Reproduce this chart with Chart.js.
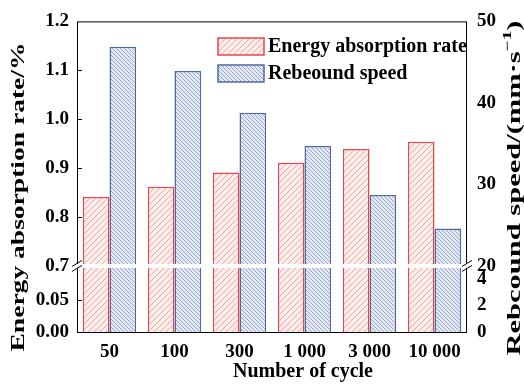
<!DOCTYPE html>
<html>
<head>
<meta charset="utf-8">
<script src="https://cdn.jsdelivr.net/npm/chart.js@4.4.1/dist/chart.umd.min.js"></script>
<style>
html, body { margin: 0; padding: 0; background: #fff; }
</style>
</head>
<body>
<canvas id="chart" width="524" height="385"></canvas>
<script>
const categories = ['50', '100', '300', '1 000', '3 000', '10 000'];
const energyRate = [0.841, 0.862, 0.891, 0.911, 0.939, 0.954];
const reboundSpeed = [46.9, 43.9, 38.8, 34.7, 28.7, 24.6];

const leftTicks = [0, 0.05, 0.7, 0.8, 0.9, 1.0, 1.1, 1.2];
const leftTickLabels = ['0.00', '0.05', '0.7', '0.8', '0.9', '1.0', '1.1', '1.2'];
const rightTicks = [0, 2, 4, 20, 30, 40, 50];
const rightTickLabels = ['0', '2', '4', '20', '30', '40', '50'];

const FONT = "'Liberation Serif', 'Times New Roman', serif";

// broken axis: both parts squeezed into one linear scale 0..TOP
const BREAK = 67, TOP = 315;
function leftPos(v) {
    return v <= 0.1 ? v * 650 : BREAK + (v - 0.7) * (TOP - BREAK) / 0.5;
}
function rightPos(v) {
    return v <= 5 ? v * 13.5 : BREAK + (v - 20) * (TOP - BREAK) / 30;
}

function hatch(bg, line, size, dir) {
    const c = document.createElement('canvas');
    c.width = size;
    c.height = size;
    const g = c.getContext('2d');
    g.fillStyle = bg;
    g.fillRect(0, 0, size, size);
    g.strokeStyle = line;
    g.lineWidth = 1;
    g.beginPath();
    if (dir > 0) {
        // "/" lines
        g.moveTo(0, size); g.lineTo(size, 0);
        g.moveTo(-1, 1); g.lineTo(1, -1);
        g.moveTo(size - 1, size + 1); g.lineTo(size + 1, size - 1);
    } else {
        // "\" lines
        g.moveTo(0, 0); g.lineTo(size, size);
        g.moveTo(size - 1, -1); g.lineTo(size + 1, 1);
        g.moveTo(-1, size - 1); g.lineTo(1, size + 1);
    }
    g.stroke();
    return document.getElementById('chart').getContext('2d').createPattern(c, 'repeat');
}

const redFill = hatch('#fcecea', '#eeaaa8', 6, 1);
const blueFill = hatch('#e4e9f4', '#95a5ca', 4, -1);
const redLine = '#e4474d';
const blueLine = '#4f69a3';

const extras = {
    id: 'extras',
    afterDatasetsDraw(chart) {
        const ctx = chart.ctx;
        const a = chart.chartArea;
        const yb = chart.scales.y.getPixelForValue(BREAK);
        ctx.save();

        // frame
        ctx.strokeStyle = '#000';
        ctx.lineWidth = 1;
        ctx.strokeRect(a.left + 0.5, a.top + 0.5, a.right - a.left - 1, a.bottom - a.top);

        // inward ticks on the left axis
        ctx.beginPath();
        leftTicks.forEach(v => {
            if (v === 0 || v === 0.7 || v === 1.2) return;
            const y = Math.round(chart.scales.y.getPixelForValue(leftPos(v))) + 0.5;
            ctx.moveTo(a.left, y);
            ctx.lineTo(a.left + 5, y);
        });
        ctx.stroke();

        // white gap across the plot
        ctx.fillStyle = '#fff';
        ctx.fillRect(a.left - 2, yb - 2, a.right - a.left + 4, 4);

        // break marks
        ctx.beginPath();
        [a.left, a.right].forEach(x => {
            [-2.5, 2.5].forEach(d => {
                ctx.moveTo(x - 5, yb + d + 3);
                ctx.lineTo(x + 5, yb + d - 3);
            });
        });
        ctx.stroke();

        // legend
        const boxes = [
            { y: 38, fill: redFill, line: redLine, text: 'Energy absorption rate' },
            { y: 65, fill: blueFill, line: blueLine, text: 'Rebeound speed' }
        ];
        ctx.font = 'bold 20px ' + FONT;
        ctx.textBaseline = 'middle';
        ctx.textAlign = 'left';
        boxes.forEach(b => {
            ctx.fillStyle = b.fill;
            ctx.fillRect(218, b.y, 46, 17);
            ctx.strokeStyle = b.line;
            ctx.lineWidth = 1.5;
            ctx.strokeRect(218, b.y, 46, 17);
            ctx.fillStyle = '#000';
            ctx.fillText(b.text, 268, b.y + 9);
        });
        ctx.restore();
    },
    afterDraw(chart) {
        const ctx = chart.ctx;
        ctx.save();
        ctx.fillStyle = '#000';
        ctx.textBaseline = 'middle';
        ctx.textAlign = 'center';

        // x title
        ctx.font = 'bold 20px ' + FONT;
        ctx.fillText('Number of cycle', 303, 372);

        // left title, stretched along its length
        ctx.save();
        ctx.translate(19, 197);
        ctx.rotate(-Math.PI / 2);
        ctx.font = 'bold 19px ' + FONT;
        const lt = 'Energy absorption rate/%';
        const lw = ctx.measureText(lt).width;
        ctx.scale(309 / lw, 1);
        ctx.fillText(lt, 0, 0);
        ctx.restore();

        // right title with superscript
        ctx.save();
        ctx.translate(515, 188);
        ctx.rotate(-Math.PI / 2);
        const p1 = 'Rebcound speed/(mm\u00b7s';
        const p2 = '\u22121';
        const p3 = ')';
        ctx.font = 'bold 19px ' + FONT;
        const w1 = ctx.measureText(p1).width;
        const w3 = ctx.measureText(p3).width;
        ctx.font = 'bold 12px ' + FONT;
        const w2 = ctx.measureText(p2).width;
        const total = w1 + w2 + w3;
        ctx.scale(335 / total, 1);
        ctx.textAlign = 'left';
        let x = -total / 2;
        ctx.font = 'bold 19px ' + FONT;
        ctx.fillText(p1, x, 0);
        x += w1;
        ctx.font = 'bold 12px ' + FONT;
        ctx.fillText(p2, x, -7);
        x += w2;
        ctx.font = 'bold 19px ' + FONT;
        ctx.fillText(p3, x, 0);
        ctx.restore();

        ctx.restore();
    }
};

Chart.defaults.font.family = FONT;
Chart.defaults.color = '#000';

const tickFont = { size: 19, weight: 'bold' };

const config = {
    type: 'bar',
    data: {
        labels: categories,
        datasets: [{
            label: 'Energy absorption rate',
            data: energyRate.map(leftPos),
            backgroundColor: redFill,
            borderColor: redLine,
            borderWidth: 1.5,
            yAxisID: 'y'
        }, {
            label: 'Rebeound speed',
            data: reboundSpeed.map(rightPos),
            backgroundColor: blueFill,
            borderColor: blueLine,
            borderWidth: 1.5,
            yAxisID: 'y2'
        }]
    },
    options: {
        responsive: false,
        animation: false,
        devicePixelRatio: 1,
        layout: { padding: { top: 17, left: 0, right: 0, bottom: 0 } },
        datasets: { bar: { categoryPercentage: 0.82, barPercentage: 1 } },
        plugins: {
            legend: { display: false },
            tooltip: { enabled: false }
        },
        scales: {
            x: {
                grid: { display: false, drawTicks: false },
                border: { display: false },
                ticks: { font: tickFont, padding: 9, maxRotation: 0, autoSkip: false },
                afterFit: s => { s.height = 53; }
            },
            y: {
                position: 'left',
                min: 0,
                max: TOP,
                grid: { display: false, drawTicks: false },
                border: { display: false },
                afterBuildTicks: s => { s.ticks = leftTicks.map(v => ({ value: leftPos(v) })); },
                ticks: {
                    autoSkip: false,
                    padding: 8,
                    font: tickFont,
                    callback: (v, i) => leftTickLabels[i]
                },
                afterFit: s => { s.width = 77; }
            },
            y2: {
                position: 'right',
                min: 0,
                max: TOP,
                grid: { display: false, drawTicks: false },
                border: { display: false },
                afterBuildTicks: s => { s.ticks = rightTicks.map(v => ({ value: rightPos(v) })); },
                ticks: {
                    autoSkip: false,
                    padding: 10,
                    font: tickFont,
                    callback: (v, i) => rightTickLabels[i]
                },
                afterFit: s => { s.width = 57; }
            }
        }
    },
    plugins: [extras]
};

window.myChart = new Chart(document.getElementById('chart').getContext('2d'), config);
</script>
</body>
</html>
